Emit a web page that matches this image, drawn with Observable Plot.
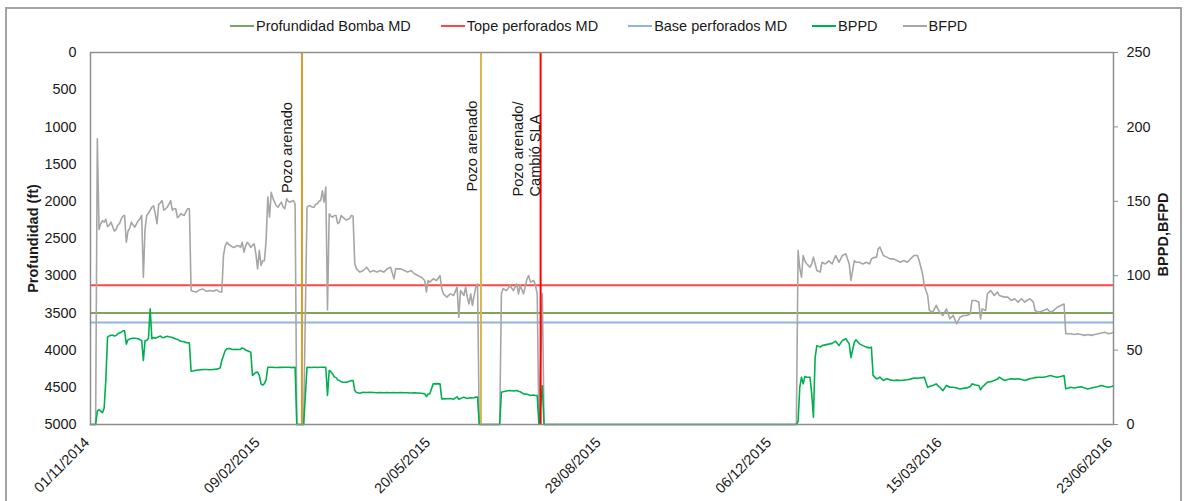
<!DOCTYPE html>
<html>
<head>
<meta charset="utf-8">
<script src="https://cdn.jsdelivr.net/npm/d3@7"></script>
<script src="https://cdn.jsdelivr.net/npm/@observablehq/plot@0.6"></script>
<style>
  html, body { margin: 0; padding: 0; background: #fff; }
  body { width: 1189px; height: 501px; position: relative; overflow: hidden;
         font-family: "Liberation Sans", Arial, sans-serif; color: #1a1a1a; }
  #marco { position: absolute; left: 5px; top: 7px; width: 1177px; height: 600px;
           border: 2px solid #a3a3a3; box-sizing: border-box; }
  #leyenda { position: absolute; left: 230px; top: 16px; height: 20px; display: flex;
             align-items: center; font-size: 14.5px; white-space: nowrap; }
  #leyenda .item { display: flex; align-items: center; margin-left: 30px; }
  #leyenda .item:first-child { margin-left: 0; }
  #leyenda .item.corto { margin-left: 25px; }
  #leyenda .linea { width: 24px; height: 2px; margin-right: 2px; }
  #grafico { position: absolute; left: 0; top: 40px; }
</style>
</head>
<body>
<div id="marco"></div>
<div id="leyenda"></div>
<div id="grafico"></div>
<script>
// Fechas de medición y caudales diarios (BFPD = fluido total, BPPD = petróleo)
const fechas = [
  "2014-11-01","2014-11-04","2014-11-05","2014-11-06","2014-11-07","2014-11-08","2014-11-09","2014-11-10","2014-11-11","2014-11-12",
  "2014-11-13","2014-11-14","2014-11-15","2014-11-16","2014-11-17","2014-11-18","2014-11-19","2014-11-20","2014-11-21","2014-11-22",
  "2014-11-23","2014-11-24","2014-11-25","2014-11-26","2014-11-27","2014-11-28","2014-11-29","2014-11-30","2014-12-01","2014-12-02",
  "2014-12-03","2014-12-04","2014-12-05","2014-12-06","2014-12-07","2014-12-08","2014-12-09","2014-12-10","2014-12-11","2014-12-12",
  "2014-12-13","2014-12-14","2014-12-15","2014-12-16","2014-12-17","2014-12-18","2014-12-19","2014-12-20","2014-12-21","2014-12-22",
  "2014-12-23","2014-12-24","2014-12-25","2014-12-26","2014-12-27","2014-12-28","2014-12-29","2014-12-30","2014-12-31","2015-01-02",
  "2015-01-04","2015-01-06","2015-01-08","2015-01-10","2015-01-12","2015-01-14","2015-01-16","2015-01-17","2015-01-18","2015-01-19",
  "2015-01-20","2015-01-21","2015-01-22","2015-01-23","2015-01-24","2015-01-25","2015-01-26","2015-01-27","2015-01-28","2015-01-29",
  "2015-01-30","2015-01-31","2015-02-01","2015-02-02","2015-02-03","2015-02-04","2015-02-05","2015-02-06","2015-02-07","2015-02-08",
  "2015-02-09","2015-02-10","2015-02-11","2015-02-12","2015-02-13","2015-02-14","2015-02-15","2015-02-16","2015-02-17","2015-02-18",
  "2015-02-19","2015-02-20","2015-02-21","2015-02-22","2015-02-23","2015-02-24","2015-02-25","2015-02-26","2015-02-27","2015-02-28",
  "2015-03-01","2015-03-02","2015-03-06","2015-03-08","2015-03-09","2015-03-10","2015-03-11","2015-03-12","2015-03-13","2015-03-14",
  "2015-03-15","2015-03-16","2015-03-17","2015-03-18","2015-03-19","2015-03-20","2015-03-21","2015-03-22","2015-03-23","2015-03-24",
  "2015-03-25","2015-03-26","2015-03-27","2015-03-28","2015-03-29","2015-03-31","2015-04-02","2015-04-03","2015-04-04","2015-04-05",
  "2015-04-06","2015-04-08","2015-04-10","2015-04-12","2015-04-14","2015-04-16","2015-04-18","2015-04-20","2015-04-22","2015-04-24",
  "2015-04-26","2015-04-28","2015-04-29","2015-05-02","2015-05-04","2015-05-06","2015-05-08","2015-05-10","2015-05-12","2015-05-14",
  "2015-05-16","2015-05-17","2015-05-18","2015-05-19","2015-05-21","2015-05-23","2015-05-25","2015-05-26","2015-05-27","2015-05-29",
  "2015-05-31","2015-06-02","2015-06-04","2015-06-05","2015-06-06","2015-06-08","2015-06-09","2015-06-10","2015-06-11","2015-06-12",
  "2015-06-13","2015-06-14","2015-06-15","2015-06-16","2015-06-17","2015-06-29","2015-06-30","2015-07-01","2015-07-03","2015-07-05",
  "2015-07-07","2015-07-09","2015-07-10","2015-07-11","2015-07-13","2015-07-15","2015-07-16","2015-07-17","2015-07-19","2015-07-20",
  "2015-07-21","2015-07-22","2015-07-24","2015-07-25","2015-12-20","2015-12-21","2015-12-22","2015-12-23","2015-12-24","2015-12-25",
  "2015-12-26","2015-12-28","2015-12-29","2015-12-30","2015-12-31","2016-01-01","2016-01-03","2016-01-04","2016-01-06","2016-01-08",
  "2016-01-10","2016-01-12","2016-01-14","2016-01-16","2016-01-18","2016-01-20","2016-01-21","2016-01-23","2016-01-24","2016-01-26",
  "2016-01-28","2016-01-30","2016-02-01","2016-02-02","2016-02-03","2016-02-05","2016-02-06","2016-02-07","2016-02-09","2016-02-11",
  "2016-02-13","2016-02-15","2016-02-17","2016-02-19","2016-02-21","2016-02-23","2016-02-25","2016-02-27","2016-02-29","2016-03-01",
  "2016-03-03","2016-03-04","2016-03-06","2016-03-07","2016-03-09","2016-03-11","2016-03-13","2016-03-15","2016-03-17","2016-03-19",
  "2016-03-21","2016-03-23","2016-03-25","2016-03-27","2016-03-29","2016-03-31","2016-04-01","2016-04-03","2016-04-05","2016-04-06",
  "2016-04-07","2016-04-09","2016-04-10","2016-04-12","2016-04-14","2016-04-16","2016-04-17","2016-04-20","2016-04-22","2016-04-24",
  "2016-04-26","2016-04-28","2016-04-30","2016-05-02","2016-05-03","2016-05-05","2016-05-07","2016-05-08","2016-05-10","2016-05-13",
  "2016-05-15","2016-05-17","2016-05-19","2016-05-21","2016-05-23","2016-05-25","2016-05-26","2016-05-29","2016-05-31","2016-06-02",
  "2016-06-04","2016-06-06","2016-06-08","2016-06-10","2016-06-12","2016-06-14","2016-06-16","2016-06-18","2016-06-20","2016-06-22","2016-06-23"
];

const bfpd = [
  0,0,192,131,135,137,136,138,133,134,
  136,133,130,131,134,135,138,140,140.5,122.5,
  130,132,136,134,132.6,135,137,138,140.5,99,
  131.5,140.5,142,144,146,147,141.6,135,148,149,
  150.5,144,145,146,148,150.5,144,145,145,139,
  140,141.6,141,140.5,143,145,145,90,89.5,89,
  90.5,91,89.5,90,89.6,90.5,89,89,113.6,120,
  122.5,121,120.3,119.5,119,119.5,120.3,120,119,122.5,
  115.8,120,122.5,121,119,120.5,121.4,114.7,104.6,117,
  106.9,110,110,123.7,152.8,139.3,156,152,149.4,147,
  146,148,149.4,146,145,151.7,150,149.4,150,150.5,
  148.3,0,0,146,147,147,146,146,148,148.3,
  150,150.5,157,149.4,159.5,77,141.6,140,139.3,140.5,
  140.5,135,136,140.5,139.3,137.4,138.5,140.5,140,108,
  104.6,102.4,103.5,105.7,102.4,103.5,102.4,103.5,102.4,104.6,
  105.7,97.9,104.6,104.6,103.5,102.4,103.5,101.3,100.1,99,
  96.8,89,96.8,95.7,97.9,96.8,100.1,91.2,87.8,85.6,
  87.8,86.7,92.3,72,90,86.7,92.3,85.6,81,87.8,
  80,86.7,92.3,94.5,0,0,87.8,91.2,90,93.4,
  90,94.5,87.8,93.4,87.8,97.9,100.1,95.7,96.8,93.4,
  87.8,0,88,0,0,117,105,99,113.6,110,
  108,105.7,108,112.5,108,103.5,102.4,109,107.9,110,
  107.9,113.6,109,113.6,114.7,107.9,96.8,110.2,109,109,
  107.9,109,107.9,111.3,112,112.5,118,119.2,113.6,112.5,
  111.3,111.3,110.2,109,110.2,109,111.3,113.6,113.6,110.2,
  101.3,93.4,86.7,76.6,75.5,80,75.5,73.3,77.7,71,
  73.3,67.7,72.1,73.3,73.3,74.4,83.3,83.3,82.2,71,
  77.7,76.6,87.8,90,86.7,89,86.7,85.6,85.6,83.3,
  84.5,82.2,84.5,82.2,83.3,84.5,82.2,76.6,75.5,76.6,
  77.7,75.5,76.6,78.8,80,81,61,61,60.5,61,
  60.5,59.9,60.5,59.9,60.5,61,61.5,62,61,61.5,62
];

const bppd = [
  0,0,9,10,9,8,11,30,58.7,59.5,
  60,60,59.5,59.8,61,61.5,62,63,63,54,
  57,57.5,57.8,58,58,57.8,57.6,57,56.5,43,
  56.5,56.5,58,77.7,57.6,58.5,58,58.5,59,59.4,
  58.5,58.4,59,59.3,59,58.8,58.5,58,57.5,57.2,
  56.5,56,55.8,55.6,55,55,54.7,35.8,36,36.5,
  36.7,37,37,36.8,37,37.2,37.9,43,46.4,49.5,
  50.9,51,51,50.5,50.4,50.5,50.4,50.4,50.5,51.5,
  51,50,49.5,49,48.6,33,34,35,35.2,33,
  27.3,26.5,27.5,30,38.5,38.5,38.5,38.5,38.3,38.3,
  38.3,38.4,38.4,38.5,38.5,38.5,38.5,38.5,38.2,38.4,
  38.5,0,0,38.5,38.4,38.3,38.3,38.5,38.5,38.3,
  38.5,38.5,38.5,38.5,38.5,19.5,36.3,35.5,34,32,
  31.5,30,29.5,28.8,28.4,28.4,29,29.6,29.6,22.8,
  21.5,21,21.7,21.5,21.7,21.5,21.3,21.5,21.3,21.5,
  21.3,21.5,21.3,21.5,21.3,21.3,21.2,21.3,21.2,21,
  20.6,18.8,20.5,20.6,27.3,27.5,27.3,17.2,17.2,17.3,
  17.5,17,18.6,17,17.5,18.4,17.8,17.5,17.8,18,
  17.8,18,18.4,18.4,0,0,21.7,22,22.5,22.8,
  22.5,22.8,22.3,22,20.6,20.3,20,19.5,19.8,19.5,
  19.5,0,26,0,0,2,25,31.8,27.3,32.3,
  31.8,31.8,20.6,4.9,45,53,52,53,53.5,54,
  54.5,56,53,56.5,57.6,54.2,45,55.3,56.9,54.2,
  53,52,51.5,52,33,30.7,31,31.8,29.6,30.7,
  30,29.6,29.8,29.6,29.8,30.1,30.5,31.2,31,31.2,
  31.5,31.8,25,25.5,26.2,27.3,25,22.8,26.2,25,
  25,24.5,23.9,24.3,24.6,25.5,27.3,26.5,26.2,23.3,
  25,27.3,28.4,28.8,29.6,30.5,31.8,29.6,30.2,30.7,
  30.5,30.7,30.2,29.6,30,30.7,31.2,31.5,31.8,31.8,
  32.3,32.9,32.3,31.8,32.3,32.9,24,25,24.5,25,
  25.3,24.5,23.9,24.5,25,25.5,26.2,25.5,25,25.5,26
];

// Profundidades de referencia del pozo (ft, MD)
const profundidadBomba = 3500;
const topePerforados = 3130;
const basePerforados = 3630;

// Eventos de intervención
const eventosFechas = ["2015-03-05", "2015-06-18", "2015-07-23"];
const eventosTextos = ["Pozo arenado", "Pozo arenado", "Pozo arenado/\nCambió SLA"];

// Ejes
const fechasEje = ["2014-11-01","2015-02-09","2015-05-20","2015-08-28","2015-12-06","2016-03-15","2016-06-23"];
const ticksProfundidad = [0,500,1000,1500,2000,2500,3000,3500,4000,4500,5000];
const ticksCaudal = [0,50,100,150,200,250];
const PROF_MAX = 5000;
const CAUDAL_MAX = 250;

const series = ["Profundidad Bomba MD", "Tope perforados MD", "Base perforados MD", "BPPD", "BFPD"];
const colores = {
  "Profundidad Bomba MD": "#7DA35E",
  "Tope perforados MD": "#FF4545",
  "Base perforados MD": "#8DB4E2",
  "BPPD": "#00B050",
  "BFPD": "#A6A6A6"
};
const coloresEventos = ["#CF9F2A", "#D8B44C", "#FF0000"];

const parseFecha = d3.utcParse("%Y-%m-%d");
// El caudal (eje derecho) se lleva a la escala de profundidad (eje izquierdo)
const aProf = v => PROF_MAX - v * PROF_MAX / CAUDAL_MAX;
const aCaudal = p => Math.round((PROF_MAX - p) * CAUDAL_MAX / PROF_MAX);

const filas = fechas.map((f, i) => ({fecha: parseFecha(f), bfpd: bfpd[i], bppd: bppd[i]}));
const eventos = eventosFechas.map((f, i) => ({fecha: parseFecha(f), texto: eventosTextos[i], color: coloresEventos[i]}));

// Leyenda
const leyenda = document.getElementById("leyenda");
series.forEach((s, i) => {
  const item = document.createElement("div");
  item.className = i >= 3 ? "item corto" : "item";
  const linea = document.createElement("span");
  linea.className = "linea";
  linea.style.background = colores[s];
  const txt = document.createElement("span");
  txt.textContent = s;
  item.append(linea, txt);
  leyenda.append(item);
});

const fuente = '"Liberation Sans", Arial, sans-serif';

function anotacion(i, dx, dy) {
  return Plot.text([eventos[i]], {
    x: "fecha", text: "texto", frameAnchor: "top", dx, dy,
    rotate: -90, textAnchor: "start", lineAnchor: "bottom",
    lineHeight: 1.14, fontSize: 14.6, fill: "#1a1a1a"
  });
}

const grafico = Plot.plot({
  width: 1189,
  height: 461,
  marginTop: 12,
  marginBottom: 77,
  marginLeft: 90,
  marginRight: 76,
  style: {fontFamily: fuente, fontSize: "14.4px", color: "#1a1a1a", background: "transparent", overflow: "visible"},
  x: {type: "utc", domain: [parseFecha(fechasEje[0]), parseFecha(fechasEje[fechasEje.length - 1])]},
  y: {domain: [PROF_MAX, 0]},
  marks: [
    Plot.ruleY([profundidadBomba], {stroke: colores["Profundidad Bomba MD"], strokeWidth: 2}),
    Plot.ruleY([topePerforados], {stroke: colores["Tope perforados MD"], strokeWidth: 2}),
    Plot.ruleY([basePerforados], {stroke: colores["Base perforados MD"], strokeWidth: 2}),
    Plot.lineY(filas, {x: "fecha", y: d => aProf(d.bfpd), stroke: colores["BFPD"], strokeWidth: 1.6}),
    Plot.lineY(filas, {x: "fecha", y: d => aProf(d.bppd), stroke: colores["BPPD"], strokeWidth: 1.6}),
    Plot.ruleX(eventos, {x: "fecha", stroke: "color", strokeWidth: 2}),
    anotacion(0, -10, 140.5),
    anotacion(1, -4, 139),
    anotacion(2, -0.6, 144),
    Plot.frame({stroke: "#8e8e8e", strokeWidth: 1.5}),
    Plot.axisY({anchor: "left", ticks: ticksProfundidad, tickFormat: d => String(d),
                tickSize: 0, tickPadding: 14, label: null}),
    Plot.axisY({anchor: "right", ticks: ticksCaudal.map(aProf), tickFormat: aCaudal,
                tickSize: 4, tickPadding: 9, stroke: "#8e8e8e", label: null}),
    Plot.axisX({ticks: fechasEje.map(parseFecha), tickFormat: d3.utcFormat("%d/%m/%Y"),
                tickRotate: -45, tickSize: 0, tickPadding: 15.5, textAnchor: "end",
                lineAnchor: "middle", dx: -3.5, label: null}),
    Plot.text(["Profundidad (ft)"], {frameAnchor: "left", dx: -57, rotate: -90,
                textAnchor: "middle", lineAnchor: "middle",
                fontWeight: "bold", fontSize: 14.5, fill: "#1a1a1a"}),
    Plot.text(["BPPD,BFPD"], {frameAnchor: "right", dx: 50, dy: -4, rotate: -90,
                textAnchor: "middle", lineAnchor: "middle",
                fontWeight: "bold", fontSize: 14.5, fill: "#1a1a1a"})
  ]
});
document.getElementById("grafico").append(grafico);
</script>
</body>
</html>
